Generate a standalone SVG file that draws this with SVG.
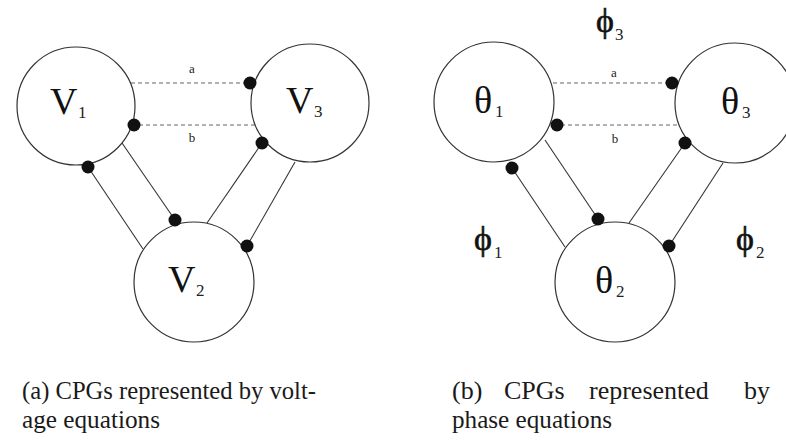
<svg xmlns="http://www.w3.org/2000/svg" width="786" height="445" viewBox="0 0 786 445">
<style>
.node{fill:#fff;stroke:#333;stroke-width:1.2}
.edge{stroke:#333;stroke-width:1.1;fill:none}
.dash{stroke:#666;stroke-width:1.1;stroke-dasharray:4 3;fill:none}
.dot{fill:#111}
text{font-family:'Liberation Serif','Times New Roman','DejaVu Serif',serif}
.big{font-size:38px;fill:#111}
.sub{font-size:17px;fill:#222}
.lbl{font-size:13px;fill:#222;text-anchor:middle}
.phi{font-size:34px;fill:#111;stroke:#111;stroke-width:0.6}
.cap{font-size:26px;fill:#1a1a1a}
</style>
<rect width="786" height="445" fill="#fff"/>

<g id="connectors-left">
  <line class="dash" x1="131" y1="83" x2="246" y2="83"/>
  <line class="dash" x1="139" y1="125" x2="255" y2="125"/>
  <text class="lbl" x="192" y="73">a</text>
  <text class="lbl" x="192" y="142">b</text>
  <line class="edge" x1="88" y1="167" x2="143" y2="249"/>
  <line class="edge" x1="122" y1="143" x2="175" y2="220"/>
  <line class="edge" x1="207" y1="223" x2="262" y2="143"/>
  <line class="edge" x1="295" y1="162" x2="247" y2="246"/>
</g>
<g id="V1"><circle class="node" cx="76" cy="106" r="59"/><text class="big" x="50" y="114">V</text><text class="sub" x="78" y="118">1</text></g>
<g id="V3"><circle class="node" cx="310" cy="103" r="59"/><text class="big" x="286" y="113">V</text><text class="sub" x="314" y="117">3</text></g>
<g id="V2"><circle class="node" cx="194" cy="282" r="60"/><text class="big" x="168" y="292">V</text><text class="sub" x="196" y="296">2</text></g>
<g id="dots-left">
  <circle class="dot" cx="250" cy="83" r="6.5"/>
  <circle class="dot" cx="134" cy="125" r="6.5"/>
  <circle class="dot" cx="88" cy="167" r="6.5"/>
  <circle class="dot" cx="175" cy="220" r="6.5"/>
  <circle class="dot" cx="262" cy="143" r="6.5"/>
  <circle class="dot" cx="247" cy="246" r="6.5"/>
</g>

<g id="connectors-right">
  <line class="dash" x1="553" y1="83" x2="668" y2="83"/>
  <line class="dash" x1="561" y1="125" x2="680" y2="125"/>
  <text class="lbl" x="614" y="77">a</text>
  <text class="lbl" x="615" y="143">b</text>
  <line class="edge" x1="512" y1="168" x2="565" y2="247"/>
  <line class="edge" x1="545" y1="140" x2="598" y2="219"/>
  <line class="edge" x1="629" y1="223" x2="685" y2="143"/>
  <line class="edge" x1="723" y1="163" x2="669" y2="246"/>
</g>
<g id="theta1"><circle class="node" cx="494" cy="102" r="60"/><text class="big" x="474" y="113">θ</text><text class="sub" x="495" y="117">1</text></g>
<g id="theta3"><circle class="node" cx="735" cy="103" r="60"/><text class="big" x="721" y="114">θ</text><text class="sub" x="742" y="118">3</text></g>
<g id="theta2"><circle class="node" cx="615" cy="282" r="60"/><text class="big" x="595" y="293">θ</text><text class="sub" x="616" y="297">2</text></g>
<g id="dots-right">
  <circle class="dot" cx="672" cy="83" r="6.5"/>
  <circle class="dot" cx="557" cy="125" r="6.5"/>
  <circle class="dot" cx="512" cy="168" r="6.5"/>
  <circle class="dot" cx="598" cy="219" r="6.5"/>
  <circle class="dot" cx="685" cy="143" r="6.5"/>
  <circle class="dot" cx="669" cy="246" r="6.5"/>
</g>
<g id="phases">
  <text class="phi" x="596" y="32">ϕ</text><text class="sub" x="615" y="40">3</text>
  <text class="phi" x="474" y="250">ϕ</text><text class="sub" x="494" y="258">1</text>
  <text class="phi" x="736" y="250">ϕ</text><text class="sub" x="756" y="258">2</text>
</g>

<g id="captions">
  <text class="cap" x="22" y="399" textLength="294" lengthAdjust="spacingAndGlyphs">(a) CPGs represented by volt-</text>
  <text class="cap" x="22" y="428" textLength="138" lengthAdjust="spacingAndGlyphs">age equations</text>
  <text class="cap" y="399"><tspan x="452">(b)</tspan><tspan x="504">CPGs</tspan><tspan x="589">represented</tspan><tspan x="744">by</tspan></text>
  <text class="cap" x="452" y="428" textLength="160" lengthAdjust="spacingAndGlyphs">phase equations</text>
</g>
</svg>
